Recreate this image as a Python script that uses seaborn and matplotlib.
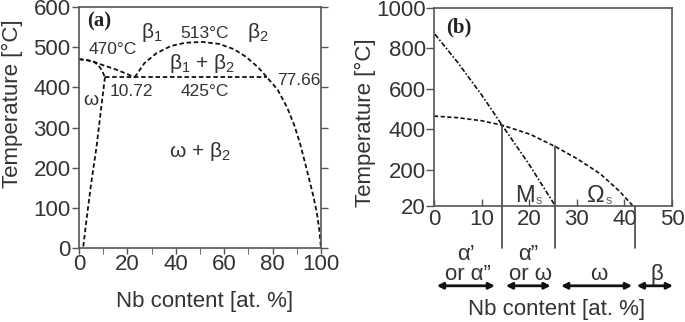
import numpy as np
import pandas as pd
import matplotlib
matplotlib.use('Agg')
import matplotlib.pyplot as plt
import seaborn as sns

sns.set_style('ticks')
plt.rcParams['font.family'] = ['Liberation Sans', 'DejaVu Sans']

# ---- panel (a) data: Ti-Nb phase diagram ----
beta1_x = [0, 3, 6, 10, 15, 20, 23]
beta1_y = [470, 468, 464, 455, 445, 433, 425]
omega_top_x = [0, 3, 6, 8, 9.5, 10.72]
omega_top_y = [470, 468, 464, 455, 442, 425]
omega_x = [10.72, 10.2, 8.8, 7.2, 5.0, 3.3, 1.7]
omega_y = [425, 400, 330, 250, 160, 80, 0]
eutectoid_x = [10.72, 77.66]
eutectoid_y = [425, 425]
dome_x = [23, 27, 32, 38, 44, 51, 58, 64, 69, 74, 77.66, 82, 86, 89, 91.3, 93.5, 95.5, 97, 98.3, 99.3, 100]
dome_y = [425, 460, 485, 503, 511, 513, 508, 495, 476, 450, 425, 395, 350, 305, 261, 210, 162, 125, 87, 45, 0]

# ---- panel (b) data ----
ms_x = [0.2, 5, 10, 14.3, 20, 25.5]
ms_y = [870, 730, 570, 420, 225, 20]
os_x = [0, 5, 10, 14.3, 20.2, 25.4, 30, 34.9, 39.1, 41.8]
os_y = [465, 457, 442, 420, 375, 315, 255, 180, 90, 20]
vline_x = [14.3, 25.5, 42.3]
vline_top = [420, 315, 20]
range_lo = [0.6, 15.1, 26.7, 42.6]
range_hi = [12.8, 24.5, 41.6, 50.2]
range_top = ["α\u2019", "α\u201d", "", ""]
range_bottom = ["or α\u201d", "or ω", "ω", "β"]

line_c = '#111111'
text_c = '#333333'
spine_c = '#555555'

fig = plt.figure(figsize=(6.85, 3.22), dpi=100)

# ================= (a) =================
ax1 = fig.add_axes([79/685, 1-248/322, 242/685, 241/322])
for xs, ys in [(beta1_x, beta1_y), (omega_top_x, omega_top_y), (omega_x, omega_y),
               (eutectoid_x, eutectoid_y), (dome_x, dome_y)]:
    sns.lineplot(x=xs, y=ys, ax=ax1, sort=False, estimator=None,
                 color=line_c, linestyle=(0, (2.5, 1.5)), linewidth=1.3)
ax1.set_xlim(0, 100)
ax1.set_ylim(0, 600)
ax1.set_xticks(range(0, 101, 20))
ax1.set_xticks(range(10, 100, 20), minor=True)
ax1.set_yticks(range(0, 601, 100))
ax1.tick_params(axis='both', labelsize=16, colors=spine_c, labelcolor=text_c, width=1)
ax1.tick_params(axis='x', length=4, pad=0)
ax1.tick_params(axis='y', length=5, pad=1, right=True)
ax1.tick_params(axis='x', which='minor', length=4, colors=spine_c)
ax1.set_ylabel('Temperature [°C]', fontsize=16, color=text_c)
ax1.yaxis.set_label_coords(-0.232, 0.6)
for s in ax1.spines.values():
    s.set_color(spine_c)
    s.set_linewidth(1.2)

ax1.text(3.5, 565, '(a)', fontsize=15, fontweight='bold', family='Liberation Serif', va='center', color='#222222')
ax1.text(30, 537, 'β$_\\mathregular{1}$', fontsize=15, ha='center', va='center', color=text_c)
ax1.text(52, 535, '513°C', fontsize=12.5, ha='center', va='center', color=text_c)
ax1.text(74, 537, 'β$_\\mathregular{2}$', fontsize=15, ha='center', va='center', color=text_c)
ax1.text(14, 493, '470°C', fontsize=12.5, ha='center', va='center', color=text_c)
ax1.text(51, 460, 'β$_\\mathregular{1}$ + β$_\\mathregular{2}$', fontsize=15, ha='center', va='center', color=text_c)
ax1.text(21.5, 389, '10.72', fontsize=12.5, ha='center', va='center', color=text_c)
ax1.text(52, 389, '425°C', fontsize=12.5, ha='center', va='center', color=text_c)
ax1.text(91, 418, '77.66', fontsize=12.5, ha='center', va='center', color=text_c)
ax1.text(5.0, 368, 'ω', fontsize=14, ha='center', va='center', color=text_c)
ax1.text(50, 240, 'ω + β$_\\mathregular{2}$', fontsize=15, ha='center', va='center', color=text_c)
fig.text(205/685, 1-302/322, 'Nb content [at. %]', fontsize=16, ha='center', va='center', color=text_c)

# ================= (b) =================
ax2 = fig.add_axes([434/685, 1-206/322, 238/685, 198/322])
sns.lineplot(x=ms_x, y=ms_y, ax=ax2, sort=False, estimator=None,
             color=line_c, linestyle=(0, (3, 1.2, 1, 1.2)), linewidth=1.2)
sns.lineplot(x=os_x, y=os_y, ax=ax2, sort=False, estimator=None,
             color=line_c, linestyle=(0, (2.5, 1.5)), linewidth=1.2)
ax2.set_xlim(0, 50)
ax2.set_ylim(20, 1000)
ax2.set_xticks(range(0, 51, 10))
ax2.set_yticks([20, 200, 400, 600, 800, 1000])
ax2.tick_params(axis='both', labelsize=16, colors=spine_c, labelcolor=text_c, width=1)
ax2.tick_params(axis='x', direction='in', length=5, pad=2)
ax2.tick_params(axis='y', direction='out', length=6, pad=0)
ax2.set_ylabel('Temperature [°C]', fontsize=16, color=text_c)
ax2.yaxis.set_label_coords(-0.245, 0.42)
for s in ax2.spines.values():
    s.set_color(spine_c)
    s.set_linewidth(1.2)

for vx, vt in zip(vline_x, vline_top):
    ax2.plot([vx, vx], [vt, -190], color='#444444', linewidth=1.2, clip_on=False)

for lo, hi, top, bot in zip(range_lo, range_hi, range_top, range_bottom):
    ax2.annotate('', xy=(lo, -375), xytext=(hi, -375), xycoords='data', annotation_clip=False,
                 arrowprops=dict(arrowstyle='<|-|>,head_length=0.35,head_width=0.18',
                                 color='#111111', lw=2, shrinkA=0, shrinkB=0))
    mid = (lo + hi) / 2
    ax2.text(mid + 0.5, -345, bot, fontsize=16, ha='center', va='baseline',
             color=text_c, clip_on=False)
    if top:
        ax2.text(mid, -245, top, fontsize=16, ha='center', va='baseline',
                 color=text_c, clip_on=False)

# Ms / Omega_s labels with small subscripts
ax2.text(21.2, 40, 'M', fontsize=17, ha='right', va='baseline', color=text_c)
ax2.text(21.3, 30, 's', fontsize=9, ha='left', va='baseline', color='#666666')
ax2.text(35.9, 40, 'Ω', fontsize=17, ha='right', va='baseline', color=text_c)
ax2.text(36.0, 30, 's', fontsize=9, ha='left', va='baseline', color='#666666')
ax2.text(2.5, 905, '(b)', fontsize=15, fontweight='bold', family='Liberation Serif', va='center', color='#222222')
fig.text(557/685, 1-310/322, 'Nb content [at. %]', fontsize=16, ha='center', va='center', color=text_c)

fig.savefig('out.png', dpi=100)
